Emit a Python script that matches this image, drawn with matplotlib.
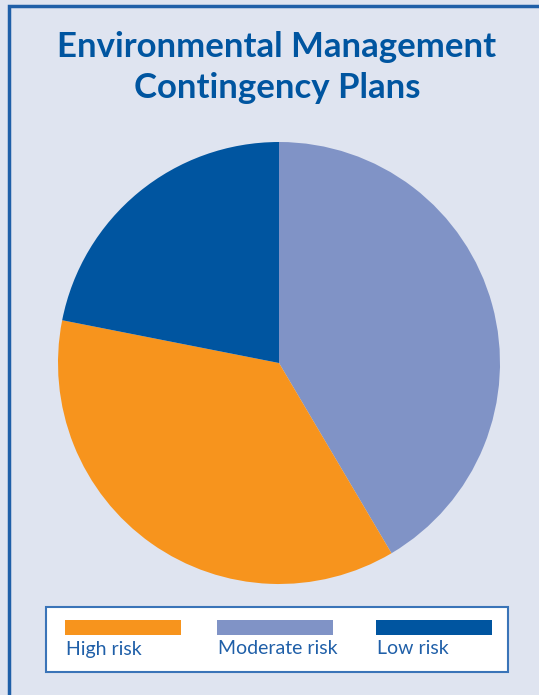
import matplotlib.pyplot as plt
from matplotlib.patches import Rectangle

# data (share of plans)
labels = ['Moderate risk', 'High risk', 'Low risk']
shares = [41.5, 36.6, 21.9]
colors = ['#8093c6', '#f7941d', '#0055a0']

legend_order = ['High risk', 'Moderate risk', 'Low risk']

W, H = 539, 695
fig = plt.figure(figsize=(W / 100, H / 100), dpi=100)
fig.patch.set_facecolor('#dfe4f0')
ax = fig.add_axes([0, 0, 1, 1])

# pie, clockwise from 12 o'clock
ax.pie(shares, colors=colors, startangle=90, counterclock=False,
       center=(279, H - 363), radius=221,
       wedgeprops=dict(linewidth=0))
ax.set_aspect('auto')
ax.set_xlim(0, W)
ax.set_ylim(0, H)
ax.axis('off')

# outer frame
ax.add_patch(Rectangle((9, -10), W + 20, H - 6 + 10, fill=False,
                       edgecolor='#1f5fa8', linewidth=2.5))

# title
ax.text(277, H - 47, 'Environmental Management', ha='center', va='center',
        fontsize=25, fontweight='bold', color='#0055a0', family='Lato')
ax.text(277, H - 88, 'Contingency Plans', ha='center', va='center',
        fontsize=25, fontweight='bold', color='#0055a0', family='Lato')

# legend box
ax.add_patch(Rectangle((46, H - 672), 462, 65, facecolor='white',
                       edgecolor='#3a74b8', linewidth=1.5))
col = dict(zip(labels, colors))
xs = [65, 217, 376]
for x, name in zip(xs, legend_order):
    ax.add_patch(Rectangle((x, H - 635), 116, 15, facecolor=col[name],
                           edgecolor='none'))
    ax.text(x + 1, H - 649, name, ha='left', va='center', fontsize=14,
            color='#1f5fa8', family='Lato')

fig.savefig('out.png', dpi=100, facecolor=fig.get_facecolor())
